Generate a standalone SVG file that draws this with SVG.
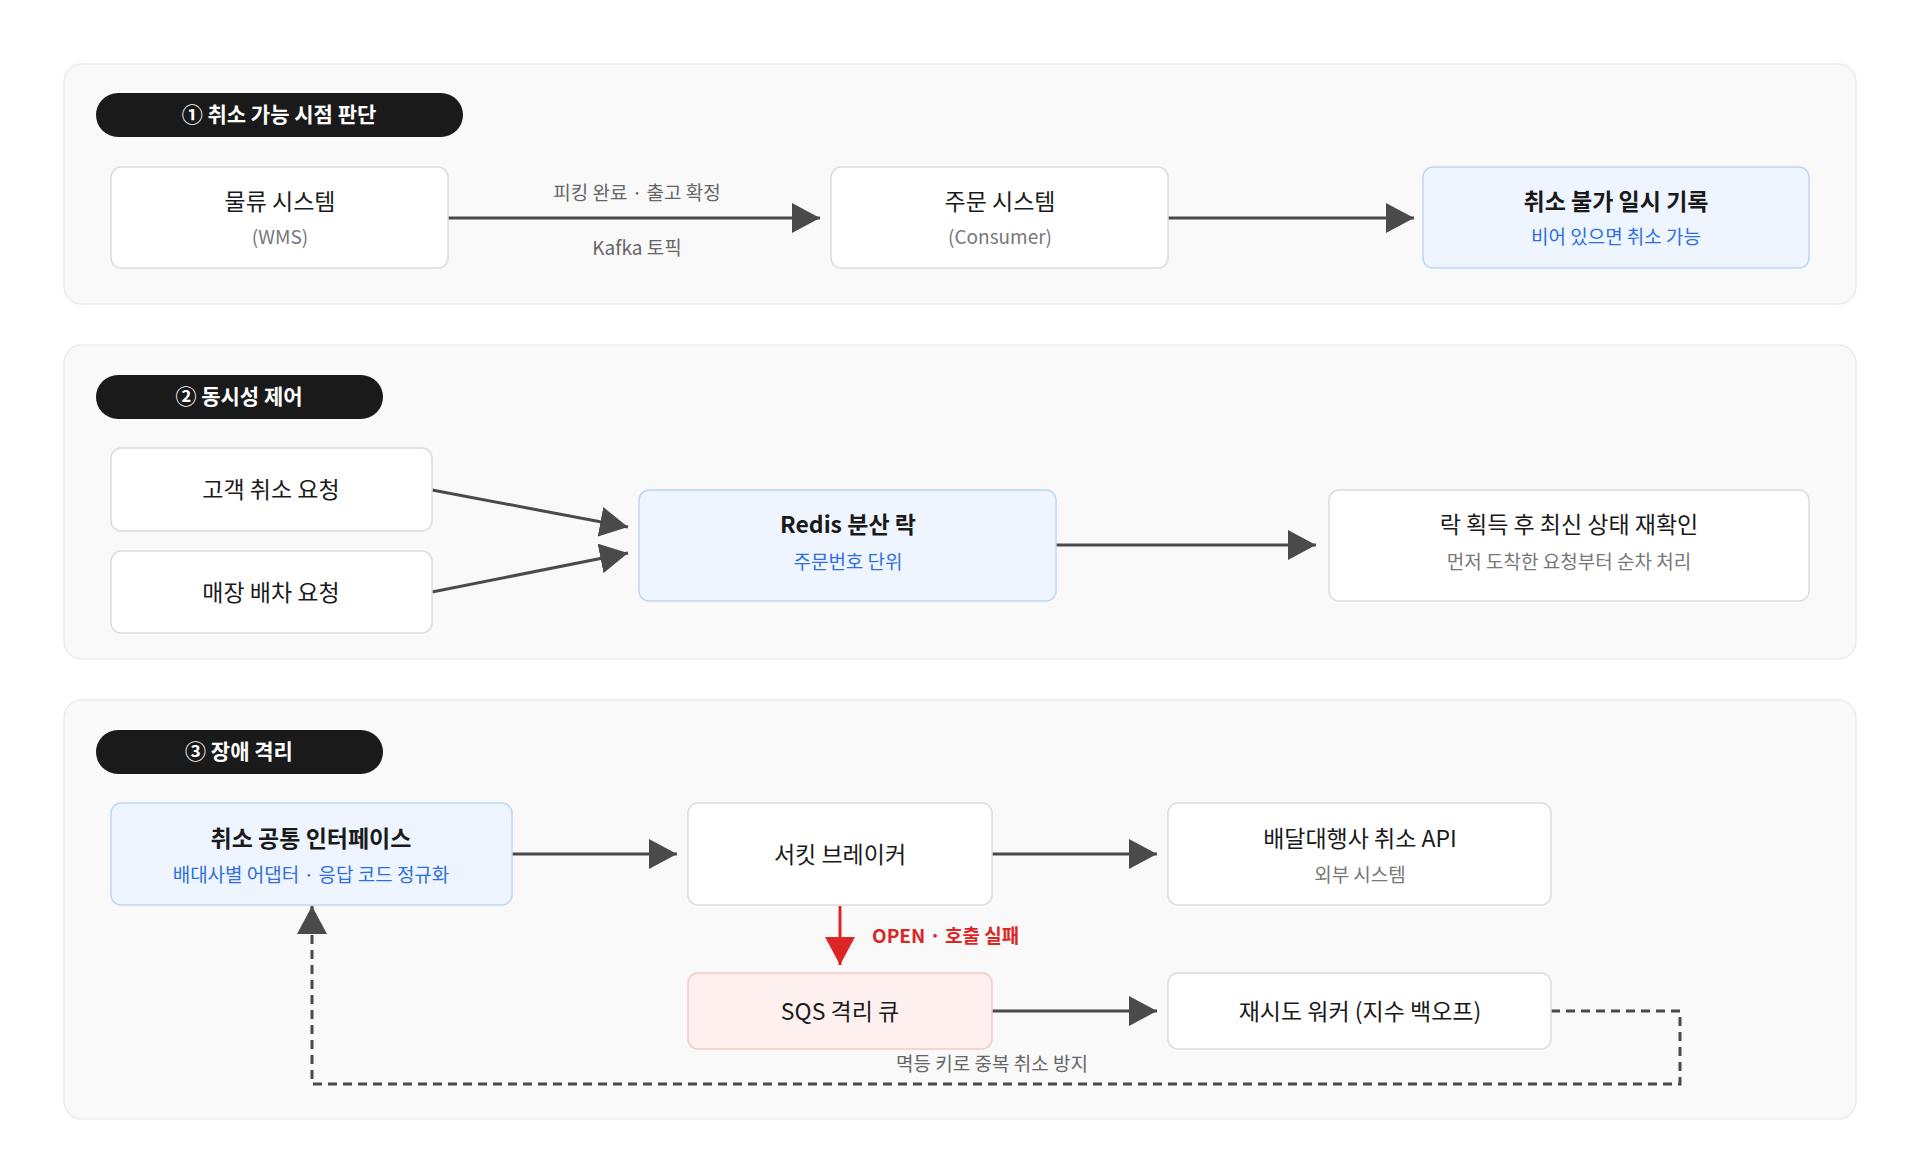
<svg xmlns="http://www.w3.org/2000/svg" width="1920" height="1168" viewBox="0 0 1920 1168">
<defs>
<marker id="ah" markerUnits="userSpaceOnUse" markerWidth="30" markerHeight="30" refX="28" refY="15" orient="auto"><path d="M0,0 L28,15 L0,30 Z" fill="#4a4a4a"/></marker>
<marker id="ahr" markerUnits="userSpaceOnUse" markerWidth="30" markerHeight="30" refX="28" refY="15" orient="auto"><path d="M0,0 L28,15 L0,30 Z" fill="#dc2626"/></marker>
<style>
text{font-family:"Noto Sans CJK KR","Noto Sans",sans-serif;text-anchor:middle}
.panel{fill:#f9f9f9;stroke:#ececec;stroke-width:1.5}
.pill{fill:#1a1a1a}
.pt{fill:#fff;font-size:21px;font-weight:700}
.box{fill:#fff;stroke:#dcdcdc;stroke-width:1.5}
.blue{fill:#eef5ff;stroke:#bcd6f5;stroke-width:1.5}
.red{fill:#fff0f0;stroke:#f8c6c6;stroke-width:1.5}
.t{font-size:23px;fill:#1a1a1a}
.tb{font-size:23px;fill:#1a1a1a;font-weight:700}
.s{font-size:19px;fill:#777}
.sb{font-size:19px;fill:#2f6fe0}
.e{font-size:19px;fill:#666}
.c{stroke:#4a4a4a;stroke-width:3;fill:none}
</style>
</defs>
<rect width="1920" height="1168" fill="#fff"/>
<g id="panel1"><rect class="panel" x="64" y="64" width="1792" height="240" rx="18"/><rect class="pill" x="96" y="93" width="367" height="44" rx="22"/><text class="pt" x="279" y="122">① 취소 가능 시점 판단</text></g>
<g id="panel2"><rect class="panel" x="64" y="345" width="1792" height="314" rx="18"/><rect class="pill" x="96" y="375" width="287" height="44" rx="22"/><text class="pt" x="239" y="404">② 동시성 제어</text></g>
<g id="panel3"><rect class="panel" x="64" y="700" width="1792" height="419" rx="18"/><rect class="pill" x="96" y="730" width="287" height="44" rx="22"/><text class="pt" x="239" y="759">③ 장애 격리</text></g>
<g id="connectors">
<line class="c" x1="448" y1="218" x2="820" y2="218" marker-end="url(#ah)"/>
<text class="e" x="637" y="200">피킹 완료 · 출고 확정</text>
<text class="e" x="637" y="255">Kafka 토픽</text>
<line class="c" x1="1168" y1="218" x2="1414" y2="218" marker-end="url(#ah)"/>
<line class="c" x1="432" y1="490" x2="628" y2="527" marker-end="url(#ah)"/>
<line class="c" x1="432" y1="592" x2="628" y2="553" marker-end="url(#ah)"/>
<line class="c" x1="1056" y1="545" x2="1316" y2="545" marker-end="url(#ah)"/>
<line class="c" x1="512" y1="854" x2="677" y2="854" marker-end="url(#ah)"/>
<line class="c" x1="992" y1="854" x2="1157" y2="854" marker-end="url(#ah)"/>
<line x1="840" y1="906" x2="840" y2="965" stroke="#dc2626" stroke-width="3" marker-end="url(#ahr)"/>
<text x="872" y="943" style="text-anchor:start;font-size:19px;font-weight:700;fill:#dc2626">OPEN · 호출 실패</text>
<line class="c" x1="992" y1="1011" x2="1157" y2="1011" marker-end="url(#ah)"/>
<path class="c" d="M1551,1011 L1680,1011 L1680,1084 L312,1084 L312,906" stroke-dasharray="9,6" marker-end="url(#ah)"/>
<text class="e" x="992" y="1071">멱등 키로 중복 취소 방지</text>
</g>
<g id="wms"><rect class="box" x="111" y="167" width="337" height="101" rx="10"/><text class="t" x="280" y="210">물류 시스템</text><text class="s" x="280" y="244">(WMS)</text></g>
<g id="order"><rect class="box" x="831" y="167" width="337" height="101" rx="10"/><text class="t" x="1000" y="210">주문 시스템</text><text class="s" x="1000" y="244">(Consumer)</text></g>
<g id="record"><rect class="blue" x="1423" y="167" width="386" height="101" rx="10"/><text class="tb" x="1616" y="210">취소 불가 일시 기록</text><text class="sb" x="1616" y="244">비어 있으면 취소 가능</text></g>
<g id="customer"><rect class="box" x="111" y="448" width="321" height="83" rx="10"/><text class="t" x="271" y="498">고객 취소 요청</text></g>
<g id="store"><rect class="box" x="111" y="551" width="321" height="82" rx="10"/><text class="t" x="271" y="601">매장 배차 요청</text></g>
<g id="redis"><rect class="blue" x="639" y="490" width="417" height="111" rx="10"/><text class="tb" x="848" y="533">Redis 분산 락</text><text class="sb" x="848" y="569">주문번호 단위</text></g>
<g id="recheck"><rect class="box" x="1329" y="490" width="480" height="111" rx="10"/><text class="t" x="1569" y="533">락 획득 후 최신 상태 재확인</text><text class="s" x="1569" y="569">먼저 도착한 요청부터 순차 처리</text></g>
<g id="common"><rect class="blue" x="111" y="803" width="401" height="102" rx="10"/><text class="tb" x="311" y="847">취소 공통 인터페이스</text><text class="sb" x="311" y="882">배대사별 어댑터 · 응답 코드 정규화</text></g>
<g id="breaker"><rect class="box" x="688" y="803" width="304" height="102" rx="10"/><text class="t" x="840" y="863">서킷 브레이커</text></g>
<g id="api"><rect class="box" x="1168" y="803" width="383" height="102" rx="10"/><text class="t" x="1360" y="847">배달대행사 취소 API</text><text class="s" x="1360" y="882">외부 시스템</text></g>
<g id="sqs"><rect class="red" x="688" y="973" width="304" height="76" rx="10"/><text class="t" x="840" y="1020">SQS 격리 큐</text></g>
<g id="worker"><rect class="box" x="1168" y="973" width="383" height="76" rx="10"/><text class="t" x="1360" y="1020">재시도 워커 (지수 백오프)</text></g>
</svg>
